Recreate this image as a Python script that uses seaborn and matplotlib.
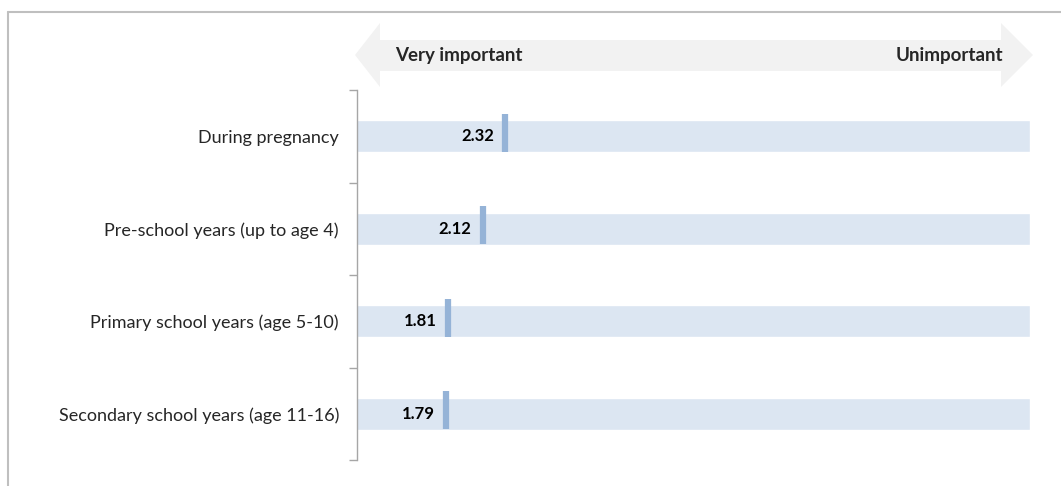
import numpy as np
import pandas as pd
import seaborn as sns
import matplotlib.pyplot as plt
from matplotlib.patches import Polygon
from matplotlib.lines import Line2D

# datos
etapas = ["During pregnancy", "Pre-school years (up to age 4)",
          "Primary school years (age 5-10)", "Secondary school years (age 11-16)"]
valores = [2.32, 2.12, 1.81, 1.79]
escala_min = 1
escala_max = 7
extremos = ["Very important", "Unimportant"]

sns.set_style("white")
plt.rcParams['font.family'] = ['Lato', 'DejaVu Sans']

df = pd.DataFrame({"etapa": etapas, "valor": valores, "fondo": [escala_max] * len(etapas)})

fig = plt.figure(figsize=(10.61, 4.86), dpi=100)
ax = fig.add_axes([357 / 1061, 26 / 486, 673 / 1061, 370 / 486])

# barras de fondo
sns.barplot(data=df, x="fondo", y="etapa", color="#dce6f2", width=0.345,
            saturation=1, ax=ax, orient="h")

# marcador del valor
pos = np.arange(len(etapas))
ax.vlines(df["valor"], pos - 0.245, pos + 0.17, color="#95b3d7", lw=4.5, zorder=3)
for p, v in zip(pos, valores):
    ax.annotate(f"{v:.2f}", (v, p), xytext=(-8, 0), textcoords="offset points",
                ha="right", va="center", fontsize=12, fontweight="bold", color="black")

ax.set_xlim(escala_min, escala_max)
ax.set_ylim(len(etapas) - 0.5, -0.5)
ax.set_xlabel("")
ax.set_ylabel("")
ax.set_xticks([])
for s in ["top", "right", "bottom"]:
    ax.spines[s].set_visible(False)
ax.spines["left"].set_color("#a6a6a6")
ax.spines["left"].set_linewidth(1)
ax.set_yticks(pos)
ax.set_yticklabels(etapas, fontsize=13)
ax.tick_params(axis="y", which="major", length=0, pad=13)
ax.set_yticks(np.arange(-0.5, len(etapas)), minor=True)
ax.tick_params(axis="y", which="minor", length=6, color="#a6a6a6", width=1, left=True)

# flecha doble
W, H = 1061, 486
def fx(x):
    return x / W
def fy(y):
    return 1 - y / H
flecha = [(355, 55), (380, 23), (380, 40), (1001, 40), (1001, 23), (1033, 55),
          (1001, 87), (1001, 71), (380, 71), (380, 87)]
fig.add_artist(Polygon([(fx(x), fy(y)) for x, y in flecha], closed=True,
                       transform=fig.transFigure, facecolor="#f2f2f2", edgecolor="none"))
fig.text(fx(395), fy(56), extremos[0], fontsize=13.5, fontweight="bold", va="center", ha="left")
fig.text(fx(1003), fy(56), extremos[1], fontsize=13.5, fontweight="bold", va="center", ha="right")

# borde
fig.add_artist(Line2D([fx(8), fx(8)], [0, fy(12)], color="#bfbfbf", lw=1.5))
fig.add_artist(Line2D([fx(8), 1], [fy(12), fy(12)], color="#bfbfbf", lw=1.5))

fig.savefig("out.png", dpi=100)
